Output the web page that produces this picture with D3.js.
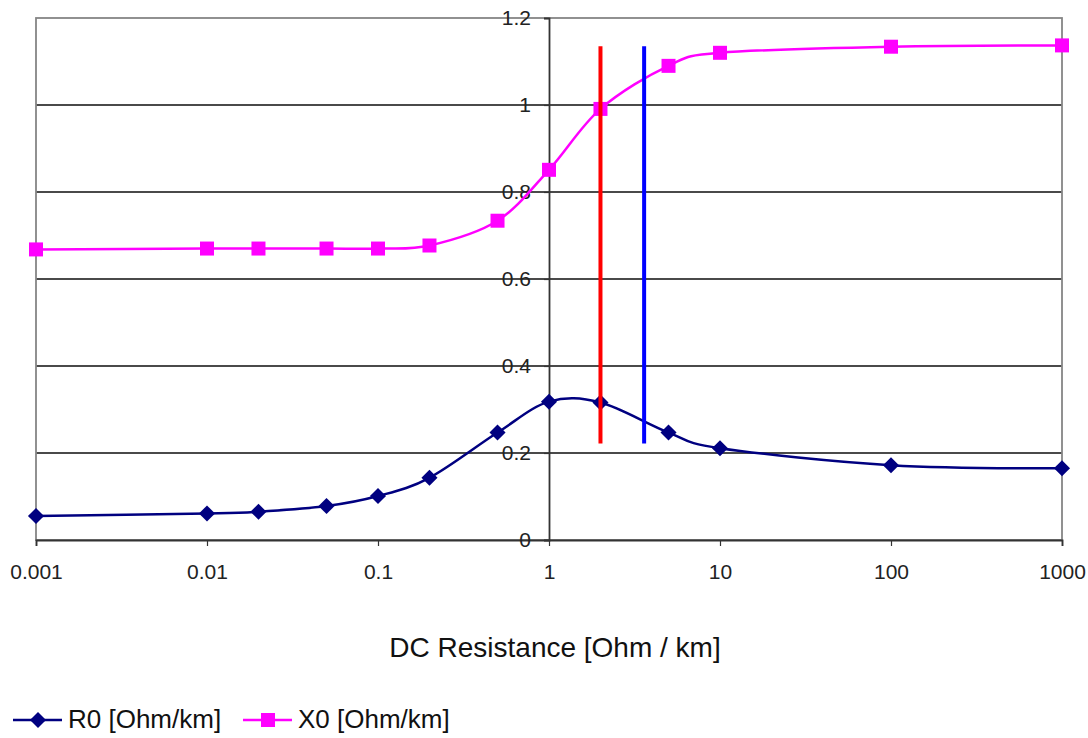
<!DOCTYPE html>
<html>
<head>
<meta charset="utf-8">
<script src="https://d3js.org/d3.v7.min.js"></script>
<style>
  body { margin: 0; background: #fff; }
  svg text { font-family: "Liberation Sans", Arial, sans-serif; }
  .tick-lbl { font-family: "Liberation Sans Narrow", "Liberation Sans", Arial, sans-serif; }
</style>
</head>
<body>
<div id="chart"></div>
<script>
// DC resistance values on the x axis (log)
const resistance = [0.001, 0.01, 0.02, 0.05, 0.1, 0.2, 0.5, 1, 2, 5, 10, 100, 1000];
// R0 [Ohm/km]
const r0 = [0.055, 0.061, 0.065, 0.078, 0.101, 0.143, 0.247, 0.318, 0.316, 0.247, 0.211, 0.172, 0.165];
// X0 [Ohm/km]
const x0 = [0.668, 0.670, 0.670, 0.670, 0.670, 0.677, 0.734, 0.851, 0.991, 1.090, 1.120, 1.134, 1.137];

const xTicks = [0.001, 0.01, 0.1, 1, 10, 100, 1000];
const xTickLabels = ["0.001", "0.01", "0.1", "1", "10", "100", "1000"];
const yTicks = [0, 0.2, 0.4, 0.6, 0.8, 1, 1.2];
const yTickLabels = ["0", "0.2", "0.4", "0.6", "0.8", "1", "1.2"];

// vertical marker lines
const markerX = [2, 3.6];
const markerColors = ["#ff0000", "#0000ff"];
const markerSpan = [0.222, 1.135];

var margin = {top: 18, left: 36},
    width = 1026,
    height = 522;

var svg = d3.select("#chart").append("svg")
    .attr("width", 1088)
    .attr("height", 738);

var g = svg.append("g")
    .attr("transform", "translate(" + margin.left + "," + margin.top + ")");

var x = d3.scaleLog().domain([0.001, 1000]).range([0, width]);
var y = d3.scaleLinear().domain([0, 1.2]).range([height, 0]);

// gridlines
g.selectAll(".grid")
  .data(yTicks.filter(d => d > 0 && d < 1.2))
  .enter().append("line")
    .attr("x1", 0).attr("x2", width)
    .attr("y1", d => y(d)).attr("y2", d => y(d))
    .attr("stroke", "#4a4a4a").attr("stroke-width", 1.8);

// plot frame
g.append("rect")
  .attr("x", 0).attr("y", 0)
  .attr("width", width).attr("height", height)
  .attr("fill", "none").attr("stroke", "#858585").attr("stroke-width", 1.8);

// x axis
var xAxis = g.append("g")
  .attr("transform", "translate(0," + height + ")")
  .call(d3.axisBottom(x).tickValues(xTicks).tickSize(6).tickFormat((d, i) => xTickLabels[i]));
xAxis.select(".domain").attr("stroke", "#333").attr("stroke-width", 1.8);
xAxis.selectAll(".tick line").attr("stroke", "#333").attr("stroke-width", 1.2);
xAxis.selectAll(".tick text")
  .attr("class", "tick-lbl")
  .attr("y", 24)
  .attr("fill", "#222")
  .style("font-size", "21px");

// y axis sits at x = 1
var yAxis = g.append("g")
  .attr("transform", "translate(" + x(1) + ",0)")
  .call(d3.axisLeft(y).tickValues(yTicks).tickSize(5).tickFormat((d, i) => yTickLabels[i]));
yAxis.select(".domain").attr("stroke", "#333").attr("stroke-width", 1.8);
yAxis.selectAll(".tick line").attr("stroke", "#333").attr("stroke-width", 1.2);
yAxis.selectAll(".tick text")
  .attr("class", "tick-lbl")
  .attr("x", -18)
  .attr("fill", "#222")
  .style("font-size", "21px");

// series lines
var line = d3.line()
  .x(d => x(d[0]))
  .y(d => y(d[1]))
  .curve(d3.curveCatmullRom.alpha(0));

var r0Pts = resistance.map((v, i) => [v, r0[i]]);
var x0Pts = resistance.map((v, i) => [v, x0[i]]);

g.append("path").datum(x0Pts)
  .attr("d", line).attr("fill", "none")
  .attr("stroke", "#ff00ff").attr("stroke-width", 2.5);

g.append("path").datum(r0Pts)
  .attr("d", line).attr("fill", "none")
  .attr("stroke", "#000080").attr("stroke-width", 2.5);

// markers
var diamond = d3.symbol().type(d3.symbolDiamond2).size(165);
g.selectAll(".r0pt").data(r0Pts).enter().append("path")
  .attr("transform", d => "translate(" + x(d[0]) + "," + y(d[1]) + ")")
  .attr("d", diamond).attr("fill", "#000080");

g.selectAll(".x0pt").data(x0Pts).enter().append("rect")
  .attr("x", d => x(d[0]) - 7).attr("y", d => y(d[1]) - 7)
  .attr("width", 14).attr("height", 14)
  .attr("fill", "#ff00ff");

// vertical marker lines
g.selectAll(".vline").data(markerX).enter().append("line")
  .attr("x1", d => x(d)).attr("x2", d => x(d))
  .attr("y1", y(markerSpan[0])).attr("y2", y(markerSpan[1]))
  .attr("stroke", (d, i) => markerColors[i]).attr("stroke-width", 4);

// axis title
svg.append("text")
  .attr("x", 555).attr("y", 657)
  .attr("text-anchor", "middle")
  .style("font-size", "28px")
  .attr("fill", "#111")
  .text("DC Resistance [Ohm / km]");

// legend
var legend = [
  {name: "R0 [Ohm/km]", color: "#000080", shape: "diamond", x: 13},
  {name: "X0 [Ohm/km]", color: "#ff00ff", shape: "square", x: 243}
];
var lg = svg.selectAll(".legend").data(legend).enter().append("g")
  .attr("transform", d => "translate(" + d.x + ",720)");
lg.append("line").attr("x1", 0).attr("x2", 49).attr("y1", 0).attr("y2", 0)
  .attr("stroke", d => d.color).attr("stroke-width", 2.5);
lg.filter(d => d.shape == "diamond").append("path")
  .attr("transform", "translate(25,0)")
  .attr("d", diamond).attr("fill", d => d.color);
lg.filter(d => d.shape == "square").append("rect")
  .attr("x", 18).attr("y", -7).attr("width", 14).attr("height", 14)
  .attr("fill", d => d.color);
lg.append("text")
  .attr("x", 55).attr("y", 8)
  .style("font-size", "26px")
  .attr("fill", "#111")
  .text(d => d.name);
</script>
</body>
</html>
